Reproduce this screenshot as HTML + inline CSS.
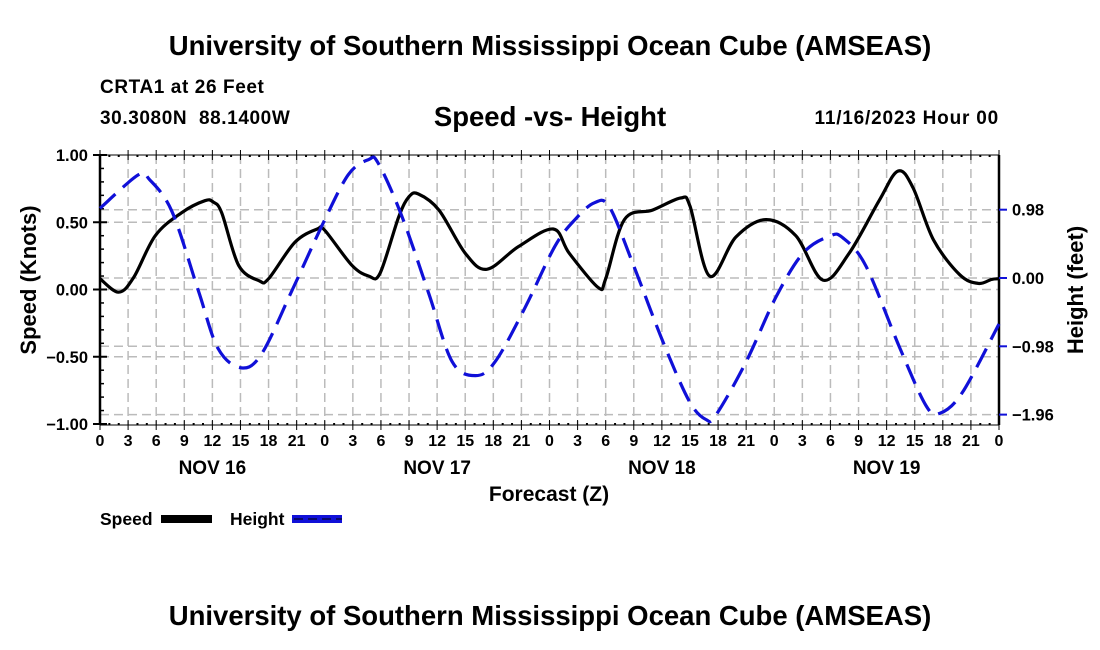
<!DOCTYPE html>
<html><head><meta charset="utf-8"><style>
html,body{margin:0;padding:0;background:#fff;}
svg{display:block;font-family:"Liberation Sans",Arial,sans-serif;font-weight:bold;}
</style></head><body>
<svg id="chart" width="1100" height="650" viewBox="0 0 1100 650">
<text x="550" y="55" text-anchor="middle" font-size="27.5">University of Southern Mississippi Ocean Cube (AMSEAS)</text>
<text x="100" y="93" font-size="19" letter-spacing="0.6">CRTA1 at 26 Feet</text>
<text x="100" y="124" font-size="19" letter-spacing="0.6" xml:space="preserve">30.3080N  88.1400W</text>
<text x="550" y="126" text-anchor="middle" font-size="27.5">Speed -vs- Height</text>
<text x="999" y="124" text-anchor="end" font-size="19" letter-spacing="0.8">11/16/2023 Hour 00</text>
<g id="grid"></g>
<g id="axes"></g>
<g id="series"></g>
<text transform="translate(36,280) rotate(-90)" text-anchor="middle" font-size="22">Speed (Knots)</text>
<text transform="translate(1083,290) rotate(-90)" text-anchor="middle" font-size="22">Height (feet)</text>
<text x="549" y="501" text-anchor="middle" font-size="21">Forecast (Z)</text>
<g>
<text x="100" y="525" font-size="17.5">Speed</text>
<rect x="161" y="515" width="51" height="8" fill="#000"/>
<text x="230" y="525" font-size="17.5">Height</text>
<rect x="292" y="515" width="50" height="8" fill="#1010d8"/>
<line x1="294" y1="519" x2="342" y2="519" stroke="#000" stroke-width="1" stroke-dasharray="9,5"/>
</g>
<text x="550" y="625" text-anchor="middle" font-size="27.5">University of Southern Mississippi Ocean Cube (AMSEAS)</text>
</svg>
<script>
const speedHours=[0,2,3.6,5.9,8.7,11.2,12.1,13,14.8,17,18,20.8,23.2,24,26.9,28.7,29.9,31.9,33,34,36.2,39,41.3,44.7,48.4,50.1,53.2,54,56,59,62,63,65.1,67.9,71.1,74.3,77.2,80,83.2,85.2,86.8,89,91.8,93.8,95.2,96];
const speedValues=[0.08,-0.02,0.09,0.40,0.57,0.66,0.65,0.57,0.18,0.065,0.08,0.35,0.45,0.44,0.18,0.10,0.12,0.54,0.69,0.71,0.59,0.27,0.15,0.32,0.45,0.27,0.015,0.08,0.52,0.59,0.68,0.62,0.10,0.39,0.52,0.40,0.07,0.27,0.66,0.88,0.76,0.37,0.11,0.045,0.075,0.08];
const heightHours=[0,4.1,5.3,7.7,10.5,12.6,15.1,17.3,20.5,23.7,26.5,28.7,29.7,32.2,35.1,37.6,40.1,42.2,45.4,48.6,50.8,52.8,54.4,56.9,60.1,62.9,64.7,65.8,69,72.2,75.1,77.9,79.3,81.8,85.4,88.2,89.7,92.1,96];
const heightValues=[1.00,1.48,1.41,0.95,-0.18,-1.01,-1.29,-1.08,-0.18,0.75,1.48,1.70,1.65,0.90,-0.22,-1.20,-1.40,-1.20,-0.42,0.46,0.85,1.08,1.02,0.21,-0.91,-1.76,-2.03,-1.96,-1.20,-0.27,0.36,0.60,0.58,0.17,-1.00,-1.83,-1.94,-1.64,-0.66];
const xTickLabels=["0","3","6","9","12","15","18","21","0","3","6","9","12","15","18","21","0","3","6","9","12","15","18","21","0","3","6","9","12","15","18","21","0"];
const dayLabels=["NOV 16","NOV 17","NOV 18","NOV 19"];
const leftTicks=[1,0.5,0,-0.5,-1];
const leftTickLabels=["1.00","0.50","0.00","\u22120.50","\u22121.00"];
const rightTicks=[0.98,0,-0.98,-1.96];
const rightTickLabels=["0.98","0.00","\u22120.98","\u22121.96"];

const X0=100,X1=999,YT=155,YB=425;
const xs=h=>X0+(X1-X0)*h/96;
const ys=v=>289.5-v*134.5;
const yh=v=>278-v*69.7;
const NS="http://www.w3.org/2000/svg";
function mk(tag,attrs,parent){const e=document.createElementNS(NS,tag);for(const k in attrs)e.setAttribute(k,attrs[k]);parent.appendChild(e);return e;}
const grid=document.getElementById('grid'),axes=document.getElementById('axes'),series=document.getElementById('series');

for(let i=1;i<32;i++){const x=xs(i*3);
 const l=mk('line',{x1:x,y1:YT,x2:x,y2:YB,stroke:'#bbb','stroke-width':1.5,'stroke-dasharray':'9,5'},grid);
 
 }
[0.5,0,-0.5].forEach(v=>{const l=mk('line',{x1:X0,y1:ys(v),x2:X1,y2:ys(v),stroke:'#bbb','stroke-width':1.5,'stroke-dasharray':'9,5'},grid);
 
 });
rightTicks.forEach(v=>{const l=mk('line',{x1:X0,y1:yh(v),x2:X1,y2:yh(v),stroke:'#bbb','stroke-width':1.5,'stroke-dasharray':'9,5'},grid);
 
 });

function smooth(hs,vs,fy){
 const p=hs.map((h,i)=>[xs(h),fy(vs[i])]);
 let d='M'+p[0][0].toFixed(1)+','+p[0][1].toFixed(1);
 for(let i=0;i<p.length-1;i++){const a=p[i-1]||p[i],b=p[i],c=p[i+1],e=p[i+2]||c;
  const c1=[b[0]+(c[0]-a[0])/6,b[1]+(c[1]-a[1])/6],c2=[c[0]-(e[0]-b[0])/6,c[1]-(e[1]-b[1])/6];
  d+=' C'+c1[0].toFixed(1)+','+c1[1].toFixed(1)+' '+c2[0].toFixed(1)+','+c2[1].toFixed(1)+' '+c[0].toFixed(1)+','+c[1].toFixed(1);}
 return d;}
const sp=mk('path',{d:smooth(speedHours,speedValues,ys),fill:'none',stroke:'#000','stroke-width':3.2},series);


const hp=mk('path',{d:smooth(heightHours,heightValues,yh),fill:'none',stroke:'#1010d8','stroke-width':3.2,'stroke-dasharray':'21,10'},series);



mk('rect',{x:X0,y:YT,width:X1-X0,height:YB-YT,fill:'none',stroke:'#000','stroke-width':1},axes);
mk('line',{x1:X0,y1:YT,x2:X0,y2:YB,stroke:'#000','stroke-width':2.5},axes);
mk('line',{x1:X1,y1:YT,x2:X1,y2:YB,stroke:'#000','stroke-width':2.5},axes);
for(let h=0;h<=96;h++){const x=xs(h),maj=h%3==0;
 mk('line',{x1:x,y1:YB-(maj?5:2),x2:x,y2:YB+(maj?5:0),stroke:'#000','stroke-width':maj?1:2},axes);
 mk('line',{x1:x,y1:YT-(maj?5:0),x2:x,y2:YT+(maj?5:2),stroke:'#000','stroke-width':maj?1:2},axes);}
for(let i=-10;i<=10;i++){const y=ys(i/10),maj=i%5==0;
 mk('line',{x1:X0-(maj?7:0),y1:y,x2:X0+(maj?7:4),y2:y,stroke:'#000','stroke-width':maj?2:1.5},axes);}
xTickLabels.forEach((t,i)=>{const e=mk('text',{x:xs(i*3),y:446,'text-anchor':'middle','font-size':16},axes);e.textContent=t;
 
 });
dayLabels.forEach((t,i)=>{const e=mk('text',{x:xs(12+24*i),y:474,'text-anchor':'middle','font-size':19},axes);e.textContent=t;
 
 });
leftTicks.forEach((v,i)=>{const e=mk('text',{x:88,y:ys(v)+6,'text-anchor':'end','font-size':16.5},axes);e.textContent=leftTickLabels[i];
 
 });
rightTicks.forEach((v,i)=>{mk('line',{x1:X1,y1:yh(v),x2:X1+8,y2:yh(v),stroke:'#1010d8','stroke-width':2},axes);
 const e=mk('text',{x:1012,y:yh(v)+6,'font-size':16.5},axes);e.textContent=rightTickLabels[i];
 
 });
</script>
</body></html>
